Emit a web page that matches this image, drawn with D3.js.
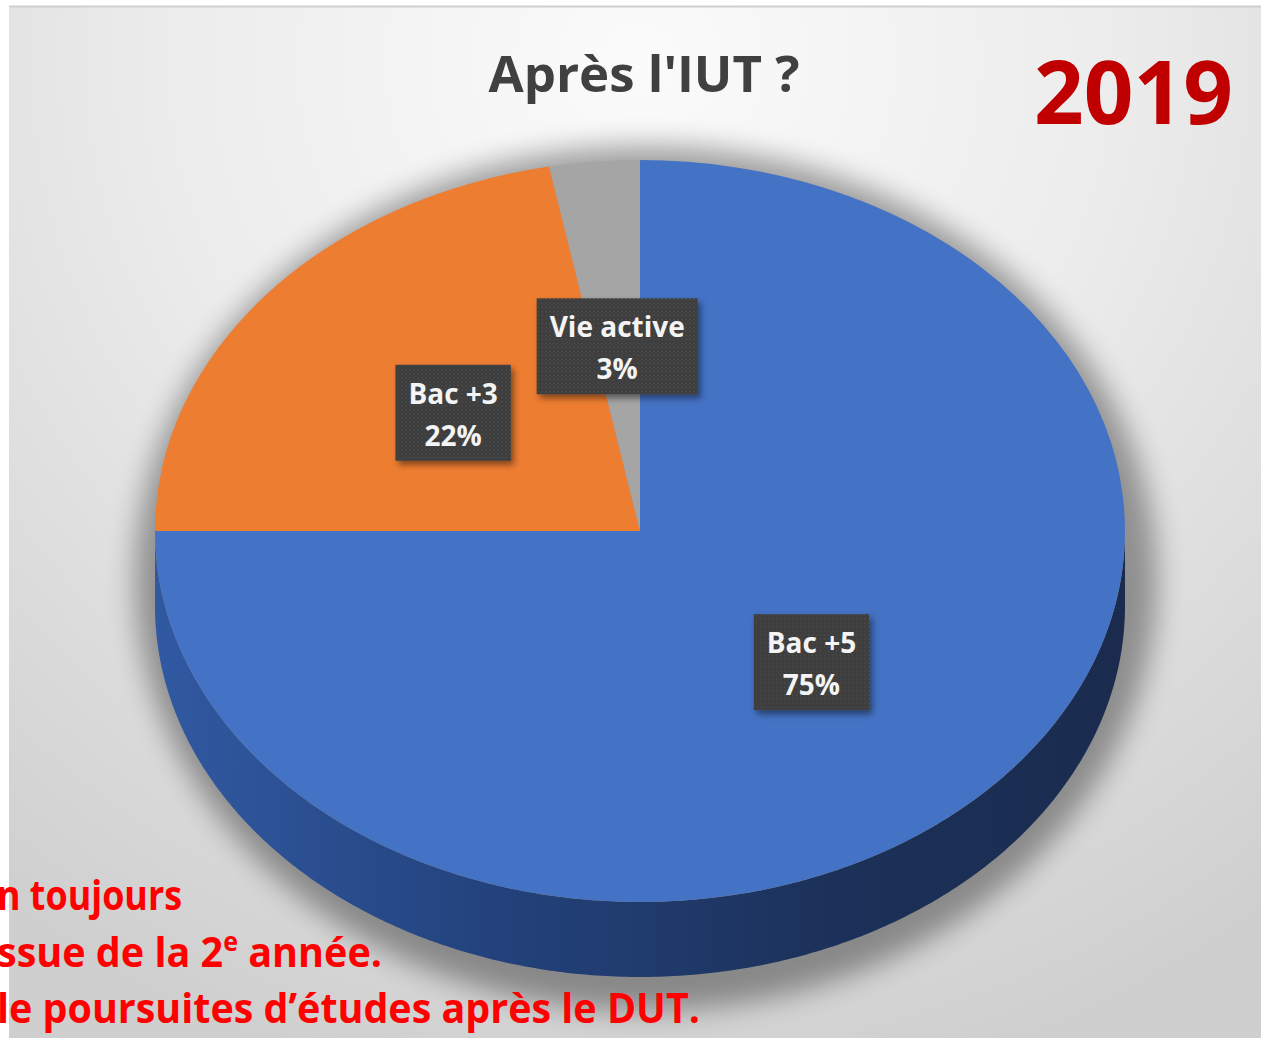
<!DOCTYPE html>
<html>
<head>
<meta charset="utf-8">
<script src="https://cdn.jsdelivr.net/npm/d3@7"></script>
<style>
  html, body { margin: 0; padding: 0; background: #fff; }
  svg { display: block; }
</style>
</head>
<body>
<svg id="chart" width="1261" height="1038"></svg>
<script>
// data
const categories = ["Bac +5", "Bac +3", "Vie active"];
const values = [75, 22, 3];
const sliceColors = ["#4472C4", "#ED7D31", "#A5A5A5"];
const title = "Après l'IUT ?";
const yearLabel = "2019";
const noteLines = ["n toujours", "ssue de la 2", "le poursuites d\u2019études après le DUT."];

const width = 1261, height = 1038;
const cx = 640, cy = 531, rx = 485, ry = 371, depth = 75;

const svg = d3.select("#chart");
const defs = svg.append("defs");

// background gradient
var bg = defs.append("radialGradient")
    .attr("id", "bgGrad")
    .attr("gradientUnits", "userSpaceOnUse")
    .attr("cx", 640).attr("cy", 60).attr("r", 1050);
bg.append("stop").attr("offset", 0).attr("stop-color", "#fbfbfb");
bg.append("stop").attr("offset", 0.45).attr("stop-color", "#ececec");
bg.append("stop").attr("offset", 1).attr("stop-color", "#cfcfcf");

// side of the pie
var sideGrad = defs.append("linearGradient")
    .attr("id", "sideGrad")
    .attr("gradientUnits", "userSpaceOnUse")
    .attr("x1", cx - rx).attr("x2", cx + rx).attr("y1", 0).attr("y2", 0);
sideGrad.append("stop").attr("offset", 0).attr("stop-color", "#3159a2");
sideGrad.append("stop").attr("offset", 0.35).attr("stop-color", "#23427c");
sideGrad.append("stop").attr("offset", 0.7).attr("stop-color", "#1c3159");
sideGrad.append("stop").attr("offset", 1).attr("stop-color", "#1a2b4e");

// soft shadow
defs.append("filter").attr("id", "blur")
    .attr("x", "-20%").attr("y", "-20%").attr("width", "140%").attr("height", "140%")
    .append("feGaussianBlur").attr("stdDeviation", 14);

var ds = defs.append("filter").attr("id", "boxShadow")
    .attr("x", "-20%").attr("y", "-20%").attr("width", "150%").attr("height", "150%");
ds.append("feDropShadow").attr("dx", 3).attr("dy", 4).attr("stdDeviation", 3)
    .attr("flood-color", "#000").attr("flood-opacity", 0.45);

// dotted texture of the data labels
var pat = defs.append("pattern").attr("id", "dots")
    .attr("patternUnits", "userSpaceOnUse").attr("width", 4).attr("height", 4);
pat.append("rect").attr("width", 4).attr("height", 4).attr("fill", "#3a3a3a");
pat.append("circle").attr("cx", 1).attr("cy", 1).attr("r", 0.9).attr("fill", "#4f4f4f");
pat.append("circle").attr("cx", 3).attr("cy", 3).attr("r", 0.9).attr("fill", "#454545");

// background panel
svg.append("rect").attr("width", width).attr("height", height).attr("fill", "#fff");
svg.append("rect")
    .attr("x", 9).attr("y", 7)
    .attr("width", width - 9).attr("height", height - 7)
    .attr("fill", "url(#bgGrad)");
svg.append("line")
    .attr("x1", 9).attr("x2", width).attr("y1", 6.5).attr("y2", 6.5)
    .attr("stroke", "#cfcfcf").attr("stroke-width", 2);

// pie layout
const pie = d3.pie().sort(null).value(d => d);
const arcs = pie(values);

const pieG = svg.append("g");

// shadow under the pie
pieG.append("ellipse")
    .attr("cx", cx + 6).attr("cy", cy + depth / 2 + 10)
    .attr("rx", rx + 26).attr("ry", ry + depth / 2 + 24)
    .attr("fill", "#000").attr("opacity", 0.36)
    .attr("filter", "url(#blur)");

// front wall of each slice
const ex = a => cx + rx * Math.sin(a);
const ey = a => cy - ry * Math.cos(a);

function wallPath(a0, a1) {
    let lo = Math.max(a0, Math.PI / 2), hi = Math.min(a1, Math.PI * 3 / 2);
    if (hi <= lo) return null;
    let angles = d3.range(lo, hi, 0.01).concat([hi]);
    let top = angles.map(a => [ex(a), ey(a)]);
    let bot = angles.slice().reverse().map(a => [ex(a), ey(a) + depth]);
    return d3.line()(top.concat(bot)) + "Z";
}

pieG.selectAll(".wall")
    .data(arcs)
    .enter()
    .append("path")
    .attr("class", "wall")
    .attr("d", d => wallPath(d.startAngle, d.endAngle))
    .attr("fill", (d, i) => i == 0 ? "url(#sideGrad)" : d3.color(sliceColors[i]).darker(1.2))
    .attr("display", d => wallPath(d.startAngle, d.endAngle) ? null : "none");

// top faces
const arc = d3.arc().innerRadius(0).outerRadius(rx);
pieG.append("g")
    .attr("transform", `translate(${cx},${cy}) scale(1,${ry / rx})`)
    .selectAll(".slice")
    .data(arcs)
    .enter()
    .append("path")
    .attr("class", "slice")
    .attr("d", arc)
    .attr("fill", (d, i) => sliceColors[i]);

// data labels
const labelG = svg.append("g")
    .style("font-family", "'Open Sans', 'Noto Sans', sans-serif")
    .style("font-weight", 700)
    .style("font-size", "28px");

arcs.forEach(function (d, i) {
    let c = arc.centroid(d);
    let lx = cx + c[0], ly = cy + c[1] * ry / rx;
    let g = labelG.append("g").attr("transform", `translate(${lx},${ly})`);
    let box = g.append("rect").attr("fill", "url(#dots)").attr("filter", "url(#boxShadow)");
    let t1 = g.append("text").attr("text-anchor", "middle").attr("y", -9)
        .attr("fill", "#f4f4f4").text(categories[i]);
    let t2 = g.append("text").attr("text-anchor", "middle").attr("y", 33)
        .attr("fill", "#f4f4f4").text(values[i] + "%");
    let w = Math.max(t1.node().getComputedTextLength(), t2.node().getComputedTextLength()) + 26;
    box.attr("x", -w / 2).attr("y", -48).attr("width", w).attr("height", 96);
});

// title
svg.append("text")
    .attr("x", 644).attr("y", 92)
    .attr("text-anchor", "middle")
    .style("font-family", "'Open Sans', sans-serif")
    .style("font-weight", 700)
    .style("font-size", "51px")
    .attr("fill", "#404040")
    .text(title);

svg.append("text")
    .attr("x", 1233).attr("y", 124)
    .attr("text-anchor", "end")
    .style("font-family", "'Open Sans', sans-serif")
    .style("font-weight", 700)
    .style("font-size", "87px")
    .attr("fill", "#C00000")
    .text(yearLabel);

// red note at the bottom, cut on the left
const noteG = svg.append("g")
    .style("font-family", "'Open Sans', sans-serif")
    .style("font-weight", 700)
    .style("font-size", "41px")
    .attr("fill", "#FF0000");

noteG.append("text").attr("x", -3).attr("y", 910)
    .attr("textLength", 185).attr("lengthAdjust", "spacingAndGlyphs")
    .text(noteLines[0]);

var l2 = noteG.append("text").attr("x", -3).attr("y", 967)
    .attr("textLength", 385).attr("lengthAdjust", "spacingAndGlyphs");
l2.append("tspan").text(noteLines[1]);
l2.append("tspan").attr("dy", -16).style("font-size", "26px").text("e");
l2.append("tspan").attr("dy", 16).text(" année.");

noteG.append("text").attr("x", -3).attr("y", 1023)
    .attr("textLength", 703).attr("lengthAdjust", "spacingAndGlyphs")
    .text(noteLines[2]);
</script>
</body>
</html>
